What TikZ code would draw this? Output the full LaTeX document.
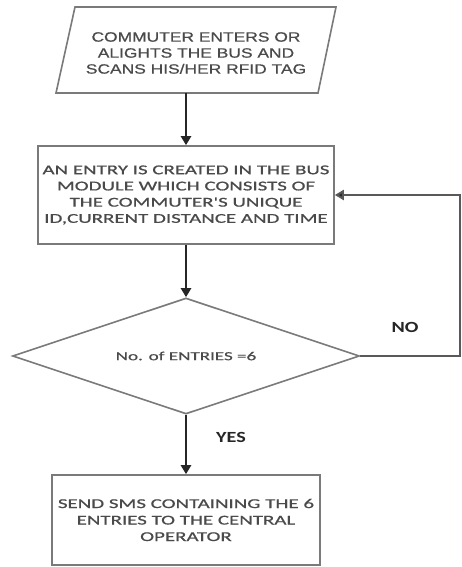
\documentclass[tikz,border=0pt]{standalone}
\usepackage{fontspec}
\setmainfont{Carlito}
\newfontfamily\arialw[FakeStretch=1.29, FakeBold=0.6]{Liberation Sans}
\newfontfamily\calw[FakeStretch=1.55, FakeBold=0.8]{Carlito}
\newfontfamily\calbw[FakeStretch=1.3]{Carlito}
\usetikzlibrary{arrows.meta,shapes.geometric}
\definecolor{edgegray}{HTML}{7A7A7A}
\definecolor{txtgray}{HTML}{4A4A4A}
\begin{document}
\begin{tikzpicture}[x=1pt,y=-1pt,
  boxline/.style={draw=edgegray, line width=1.6pt},
  procbox/.style={boxline, rectangle, inner sep=0pt, align=center, text=txtgray},
  arr/.style={line width=2.6pt, draw=black!85, -{Triangle[length=9pt,width=10pt]}},
  backarr/.style={line width=2pt, draw=black!65, -{Triangle[length=9pt,width=10pt,fill=black!85]}},
  lbl/.style={font=\calbw\bfseries\fontsize{15.5}{17}\selectfont, text=black!85}]
\path[use as bounding box, fill=white] (0,0) rectangle (461,567);
% input parallelogram
\draw[boxline] (75,7) -- (336,7) -- (318,93) -- (56,93) -- cycle;
\node[align=center, text=txtgray, font=\arialw\fontsize{13.5}{16}\selectfont] (t1) at (196,53)
  {COMMUTER ENTERS OR\\ALIGHTS THE BUS AND\\SCANS HIS/HER RFID TAG};
\coordinate (p1b) at (186,93);
% process box
\node[procbox, minimum width=296pt, minimum height=98pt, font=\calw\fontsize{13.5}{16.2}\selectfont] (b2) at (186,195)
  {AN ENTRY IS CREATED IN THE BUS\\MODULE WHICH CONSISTS OF\\THE COMMUTER'S UNIQUE\\ID,CURRENT DISTANCE AND TIME};
% decision
\node[boxline, diamond, aspect=3, minimum width=347pt, minimum height=116pt, inner sep=0pt, text=txtgray,
  font=\calw\fontsize{12.3}{14}\selectfont] (d) at (186,356) {No. of ENTRIES =6};
% output box
\node[procbox, minimum width=268pt, minimum height=90pt, font=\calw\fontsize{13.5}{16.5}\selectfont] (b4) at (186,520)
  {SEND SMS CONTAINING THE 6\\ENTRIES TO THE CENTRAL\\OPERATOR};
% connectors
\draw[arr] (p1b) -- (b2.north);
\draw[arr] (b2.south) -- (d.north);
\draw[arr] (d.south) -- (b4.north);
\coordinate (fr) at (460,356);
\draw[backarr] (d.east) -- (fr) |- (b2.east);
% labels
\node[lbl] (no) at (405,327) {NO};
\node[lbl] (yes) at (231,437) {YES};
\end{tikzpicture}
\end{document}
